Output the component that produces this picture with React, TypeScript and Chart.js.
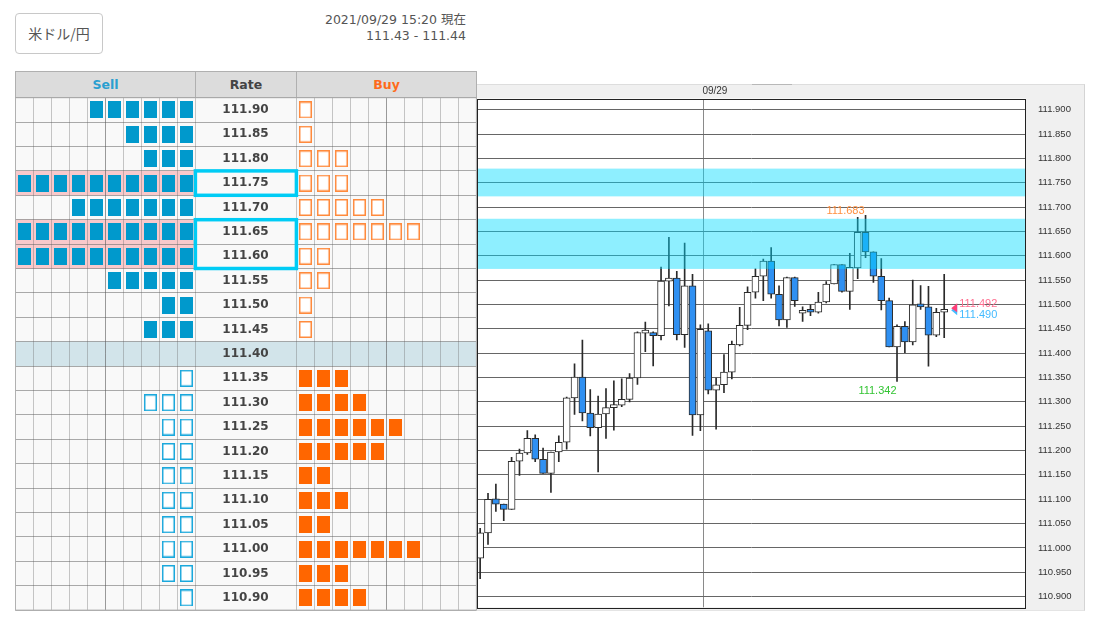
import React, { useEffect, useRef } from "react";
import { Chart, registerables } from "chart.js";

Chart.register(...registerables);

const rates = ["111.90","111.85","111.80","111.75","111.70","111.65","111.60","111.55","111.50","111.45","111.40","111.35","111.30","111.25","111.20","111.15","111.10","111.05","111.00","110.95","110.90"];
const sellCounts = [6,4,3,10,7,10,10,5,2,3,0,1,3,2,2,2,2,2,2,2,1];
const buyCounts = [1,1,3,3,5,7,2,2,1,1,0,3,4,6,5,2,3,2,7,3,4];
const currentRate = "111.40";
const pinkRates = ["111.75","111.65","111.60"];
const boxedRates = [["111.75","111.75"],["111.65","111.60"]];

const opens = [110.979,111.031,111.101,111.090,111.079,111.178,111.195,111.225,111.182,111.153,111.197,111.217,111.308,111.351,111.277,111.247,111.275,111.288,111.293,111.305,111.349,111.441,111.440,111.436,111.548,111.554,111.438,111.538,111.273,111.446,111.324,111.335,111.361,111.417,111.457,111.525,111.558,111.589,111.521,111.468,111.555,111.482,111.488,111.484,111.505,111.542,111.582,111.527,111.575,111.648,111.608,111.558,111.508,111.413,111.455,111.423,111.499,111.495,111.437,111.484];
const closes = [111.031,111.100,111.090,111.079,111.178,111.195,111.225,111.182,111.153,111.197,111.217,111.308,111.351,111.277,111.247,111.275,111.288,111.293,111.305,111.349,111.442,111.442,111.436,111.548,111.553,111.438,111.538,111.273,111.449,111.324,111.335,111.361,111.418,111.457,111.525,111.558,111.589,111.521,111.468,111.555,111.508,111.488,111.484,111.505,111.542,111.582,111.527,111.576,111.648,111.608,111.558,111.508,111.413,111.455,111.423,111.499,111.495,111.437,111.484,111.490];
const highs = [111.040,111.112,111.131,111.090,111.186,111.203,111.241,111.232,111.205,111.197,111.230,111.310,111.378,111.427,111.325,111.312,111.327,111.343,111.347,111.358,111.444,111.464,111.444,111.577,111.638,111.568,111.626,111.562,111.458,111.460,111.349,111.397,111.425,111.494,111.536,111.573,111.593,111.617,111.538,111.556,111.556,111.495,111.499,111.525,111.547,111.582,111.582,111.605,111.679,111.683,111.608,111.594,111.513,111.458,111.465,111.550,111.539,111.537,111.492,111.562];
const lows = [110.937,111.007,111.075,111.056,111.079,111.149,111.192,111.177,111.153,111.114,111.177,111.203,111.274,111.261,111.230,111.156,111.225,111.242,111.290,111.300,111.336,111.403,111.374,111.427,111.497,111.427,111.412,111.231,111.241,111.316,111.244,111.319,111.347,111.415,111.448,111.513,111.508,111.513,111.456,111.453,111.496,111.465,111.477,111.482,111.503,111.542,111.525,111.490,111.553,111.596,111.545,111.489,111.413,111.342,111.401,111.417,111.490,111.373,111.434,111.432];

const priceTicks = [110.9,110.95,111.0,111.05,111.1,111.15,111.2,111.25,111.3,111.35,111.4,111.45,111.5,111.55,111.6,111.65,111.7,111.75,111.8,111.85,111.9];
const zoneBands = [[111.722,111.779],[111.573,111.676]];
const dayLabel = "09/29";
const dayBreakIndex = 28.45;
const highLabel = "111.683";
const highIndex = 49;
const lowLabel = "111.342";
const lowIndex = 53;
const bidLabel = "111.492";
const askLabel = "111.490";

const SELL_COLS = 10;
const BUY_COLS = 10;
const RATE_COLS = 101 / 18;
const BUY_START = SELL_COLS + RATE_COLS;
const UP = "#ffffff";
const DOWN = "#2f90f2";
const INK = "#2a2a2a";

function cellImage(fill: string, stroke: string | null) {
  const c = document.createElement("canvas");
  c.width = 13;
  c.height = 17;
  const g = c.getContext("2d")!;
  g.fillStyle = fill;
  g.fillRect(0, 0, 13, 17);
  if (stroke) {
    g.strokeStyle = stroke;
    g.lineWidth = 1.5;
    g.strokeRect(0.75, 0.75, 11.5, 15.5);
  }
  return c;
}

const bookPlugin = {
  id: "bookBackground",
  beforeDraw(chart: any) {
    const { ctx, scales, chartArea: a } = chart;
    const y = scales.y;
    const x = scales.x;
    const h = (a.bottom - a.top) / rates.length;
    ctx.save();
    ctx.fillStyle = "#f9f9f9";
    ctx.fillRect(a.left, a.top, a.right - a.left, a.bottom - a.top);
    rates.forEach((r, i) => {
      const py = y.getPixelForValue(i) - h / 2;
      if (r === currentRate) {
        ctx.fillStyle = "#d2e4ea";
        ctx.fillRect(a.left, py, a.right - a.left, h);
      }
      if (pinkRates.includes(r)) {
        ctx.fillStyle = "#f8c9cb";
        ctx.fillRect(a.left, py, x.getPixelForValue(SELL_COLS) - a.left, h);
      }
    });
    ctx.restore();
  },
  afterDraw(chart: any) {
    const { ctx, scales, chartArea: a } = chart;
    const y = scales.y;
    const x = scales.x;
    const h = (a.bottom - a.top) / rates.length;
    ctx.save();
    ctx.strokeStyle = "#00ccf5";
    ctx.lineWidth = 3.5;
    boxedRates.forEach(([from, to]) => {
      const t = y.getPixelForValue(rates.indexOf(from)) - h / 2;
      const b = y.getPixelForValue(rates.indexOf(to)) + h / 2;
      const l = x.getPixelForValue(SELL_COLS);
      const r = x.getPixelForValue(BUY_START);
      ctx.strokeRect(l, t, r - l, b - t);
    });
    ctx.strokeStyle = "#b0b0b0";
    ctx.lineWidth = 1;
    ctx.strokeRect(a.left, a.top, a.right - a.left, a.bottom - a.top);
    ctx.restore();
  },
};

const candlePlugin = {
  id: "candleExtras",
  beforeDraw(chart: any) {
    const { ctx, chartArea: a } = chart;
    ctx.save();
    ctx.fillStyle = "#ffffff";
    ctx.fillRect(a.left, a.top, a.right - a.left, a.bottom - a.top);
    ctx.restore();
  },
  afterDatasetsDraw(chart: any) {
    const { ctx, chartArea: a, scales } = chart;
    const y = scales.y;
    const x = scales.x;
    ctx.save();
    ctx.fillStyle = "rgba(0,220,255,0.443)";
    zoneBands.forEach(([lo, hi]) => {
      const t = y.getPixelForValue(hi);
      const b = y.getPixelForValue(lo);
      ctx.fillRect(a.left - 1, t, a.right - a.left + 1, b - t);
    });
    ctx.strokeStyle = "#222222";
    ctx.lineWidth = 1;
    ctx.strokeRect(Math.round(a.left) + 0.5, Math.round(a.top) + 0.5, Math.round(a.right - a.left) - 1, Math.round(a.bottom - a.top));

    ctx.font = "11px 'Liberation Sans'";
    ctx.textBaseline = "middle";
    ctx.textAlign = "right";
    ctx.fillStyle = "#ff9040";
    ctx.fillText(highLabel, x.getPixelForValue(highIndex) - 1, y.getPixelForValue(+highLabel) - 4);
    ctx.fillStyle = "#33c433";
    ctx.fillText(lowLabel, x.getPixelForValue(lowIndex) - 0.5, y.getPixelForValue(+lowLabel) + 10);

    const lastX = x.getPixelForValue(opens.length - 1);
    const bidY = y.getPixelForValue(+bidLabel);
    const askY = y.getPixelForValue(+askLabel);
    const tipX = lastX + 7;
    ctx.fillStyle = "#44bbff";
    ctx.beginPath();
    ctx.moveTo(tipX, askY + 1);
    ctx.lineTo(tipX + 6, askY - 4);
    ctx.lineTo(tipX + 6, askY + 6);
    ctx.fill();
    ctx.fillStyle = "#ff3f78";
    ctx.beginPath();
    ctx.moveTo(tipX, bidY);
    ctx.lineTo(tipX + 6, bidY - 5);
    ctx.lineTo(tipX + 6, bidY + 4);
    ctx.fill();
    ctx.textAlign = "left";
    ctx.fillStyle = "#ff6f90";
    ctx.fillText(bidLabel, tipX + 8, bidY - 4.5);
    ctx.fillStyle = "#44bbff";
    ctx.fillText(askLabel, tipX + 8, askY + 5.5);
    ctx.restore();
  },
};

export default function App() {
  const bookRef = useRef<HTMLCanvasElement>(null);
  const candleRef = useRef<HTMLCanvasElement>(null);

  useEffect(() => {
    const sellOn = cellImage("#0099cc", null);
    const sellOff = cellImage("#ffffff", "#1ba8dc");
    const buyOn = cellImage("#ff6600", null);
    const buyOff = cellImage("#ffffff", "#ff8a3c");
    const mid = rates.indexOf(currentRate);
    const sellPts = (from: number, to: number) =>
      rates.flatMap((r, i) =>
        i >= from && i < to
          ? Array.from({ length: sellCounts[i] }, (_, k) => ({ x: SELL_COLS - k - 0.5, y: r }))
          : []
      );
    const buyPts = (from: number, to: number) =>
      rates.flatMap((r, i) =>
        i >= from && i < to
          ? Array.from({ length: buyCounts[i] }, (_, k) => ({ x: BUY_START + k + 0.5, y: r }))
          : []
      );
    const edges = [
      ...Array.from({ length: SELL_COLS + 1 }, (_, k) => k),
      ...Array.from({ length: BUY_COLS + 1 }, (_, k) => BUY_START + k),
    ];
    const mk = (label: string, data: any[], img: HTMLCanvasElement) => ({
      label,
      data,
      pointStyle: img,
      pointRadius: 6,
      showLine: false,
    });
    const book = new Chart(bookRef.current!, {
      type: "scatter",
      data: {
        datasets: [
          mk("Sell", sellPts(0, mid), sellOn),
          mk("Sell below", sellPts(mid + 1, rates.length), sellOff),
          mk("Buy above", buyPts(0, mid), buyOff),
          mk("Buy", buyPts(mid + 1, rates.length), buyOn),
        ],
      },
      options: {
        responsive: false,
        animation: false,
        devicePixelRatio: 1,
        layout: { autoPadding: false, padding: { left: 0.4, right: 1.6, top: 0.7, bottom: 1.9 } },
        plugins: { legend: { display: false }, tooltip: { enabled: false } },
        events: [],
        scales: {
          x: {
            type: "linear",
            min: 0,
            max: BUY_START + BUY_COLS,
            afterBuildTicks: (s: any) => {
              s.ticks = edges.map((value) => ({ value }));
            },
            afterFit: (s: any) => {
              s.height = 0;
            },
            ticks: { display: false },
            border: { display: false },
            grid: {
              drawTicks: false,
              lineWidth: 1,
              color: (c: any) =>
                Math.abs(c.tick?.value - 5) < 0.01 || Math.abs(c.tick?.value - (BUY_START + 5)) < 0.01
                  ? "rgba(90,90,90,0.6)"
                  : "rgba(110,110,110,0.38)",
            },
          },
          y: {
            type: "category",
            labels: rates,
            position: { x: 14.07 } as any,
            offset: true,
            afterFit: (s: any) => {
              s.paddingTop = 0;
              s.paddingBottom = 0;
            },
            border: { display: false },
            grid: { offset: true, drawTicks: false, color: "rgba(90,90,90,0.5)" },
            ticks: {
              autoSkip: false,
              padding: 0,
              color: "#444444",
              font: { family: "'DejaVu Sans'", size: 12, weight: "bold" },
            },
          },
        },
      } as any,
      plugins: [bookPlugin as any],
    });

    const idx = opens.map((_, i) => i);
    const candles = new Chart(candleRef.current!, {
      type: "bar",
      data: {
        datasets: [
          {
            label: "Body",
            data: idx.map((i) => ({ x: i, y: [opens[i], closes[i]] })),
            backgroundColor: idx.map((i) => (closes[i] >= opens[i] ? UP : DOWN)),
            borderColor: INK,
            borderWidth: 1,
            borderSkipped: false,
            barThickness: 7,
            minBarLength: 3,
            grouped: false,
            order: 1,
          },
          {
            label: "Wick",
            data: idx.map((i) => ({ x: i, y: [lows[i], highs[i]] })),
            backgroundColor: INK,
            borderWidth: 0,
            barThickness: 1,
            grouped: false,
            order: 2,
          },
        ],
      },
      options: {
        responsive: false,
        animation: false,
        devicePixelRatio: 1,
        layout: { autoPadding: false, padding: { left: 0, right: 0, top: 0, bottom: 3.7 } },
        plugins: { legend: { display: false }, tooltip: { enabled: false } },
        events: [],
        scales: {
          x: {
            type: "linear",
            position: "top",
            offset: false,
            min: -0.4,
            max: 69.4,
            afterBuildTicks: (s: any) => {
              s.ticks = [{ value: dayBreakIndex }];
            },
            afterFit: (s: any) => {
              s.height = 13.5;
              s.paddingLeft = 0;
              s.paddingRight = 0;
            },
            ticks: {
              autoSkip: false,
              maxRotation: 0,
              padding: 1,
              labelOffset: 11,
              color: "#333333",
              font: { family: "'Liberation Sans'", size: 10 },
              callback: () => dayLabel,
            },
            border: { display: false },
            grid: { offset: false, drawTicks: false, color: "#8a8a8a" },
          },
          y: {
            type: "linear",
            position: "right",
            min: 110.878,
            max: 111.923,
            afterBuildTicks: (s: any) => {
              s.ticks = priceTicks.map((value) => ({ value }));
            },
            afterFit: (s: any) => {
              s.width = 59;
              s.paddingTop = 0;
              s.paddingBottom = 0;
            },
            ticks: {
              padding: 12,
              color: "#333333",
              font: { family: "'Liberation Sans'", size: 9.5 },
              callback: (v: any) => Number(v).toFixed(3),
            },
            border: { display: false },
            grid: { drawTicks: false, color: "#666666" },
          },
        },
      } as any,
      plugins: [candlePlugin as any],
    });

    return () => {
      book.destroy();
      candles.destroy();
    };
  }, []);

  const headCell = (left: number, width: number, text: string, color: string) => (
    <div
      style={{
        position: "absolute",
        left,
        top: 71,
        width,
        height: 27,
        boxSizing: "border-box",
        border: "1px solid #b0b0b0",
        background: "#dcdcdc",
        color,
        font: "bold 12.5px 'DejaVu Sans'",
        lineHeight: "25px",
        textAlign: "center",
      }}
    >
      {text}
    </div>
  );

  return (
    <div style={{ position: "fixed", left: 0, top: 0, width: 1103, height: 628, background: "#fff", overflow: "hidden" }}>
      <div
        style={{
          position: "absolute",
          left: 15,
          top: 13,
          width: 88,
          height: 41,
          boxSizing: "border-box",
          border: "1px solid #c8c8c8",
          borderRadius: 4,
          color: "#555",
          font: "14px 'Noto Sans CJK JP'",
          lineHeight: "39px",
          textAlign: "center",
        }}
      >
        米ドル/円
      </div>
      <div
        style={{
          position: "absolute",
          right: 637,
          top: 12,
          color: "#555",
          font: "12.5px 'DejaVu Sans', 'Noto Sans CJK JP'",
          lineHeight: "16px",
          textAlign: "right",
          whiteSpace: "nowrap",
        }}
      >
        2021/09/29 15:20 現在
        <br />
        111.43 - 111.44
      </div>
      {headCell(15, 181, "Sell", "#2a9fd0")}
      {headCell(195, 102, "Rate", "#444444")}
      {headCell(296, 181, "Buy", "#ff6a1a")}
      <canvas ref={bookRef} width={463} height={515} style={{ position: "absolute", left: 15, top: 97, display: "block" }} />
      <div
        style={{
          position: "absolute",
          left: 477,
          top: 84,
          width: 608,
          height: 527,
          boxSizing: "border-box",
          background: "#f0f0f0",
          borderTop: "1px solid #dddddd",
          borderRight: "1px solid #d4d4d4",
          borderBottom: "1px solid #e4e4e4",
        }}
      />
      <div style={{ position: "absolute", left: 752, top: 84, width: 40, height: 1, background: "#b8b8b8" }} />
      <canvas ref={candleRef} width={608} height={526} style={{ position: "absolute", left: 477, top: 85, display: "block" }} />
    </div>
  );
}
